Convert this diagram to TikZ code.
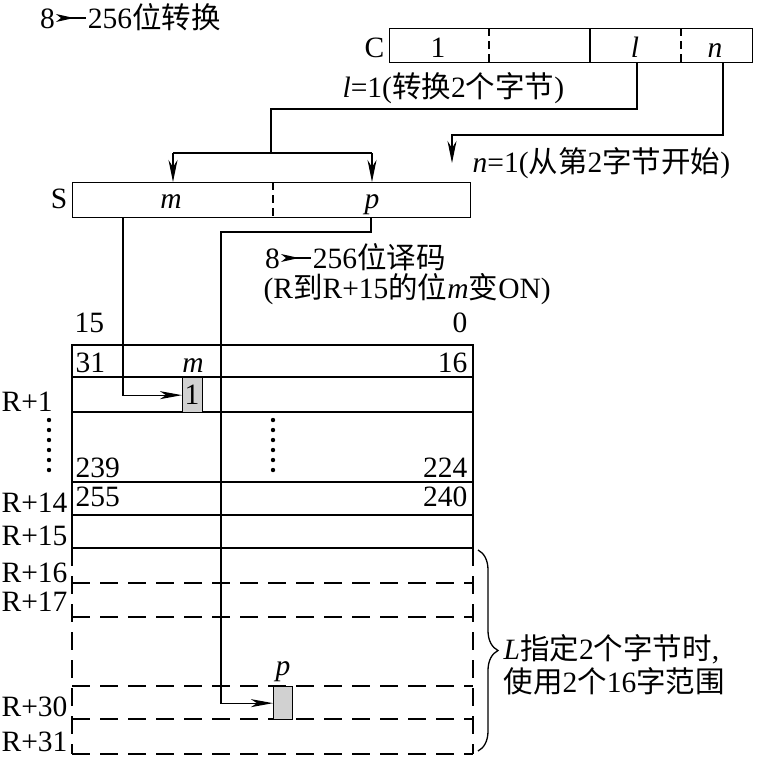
\documentclass[tikz,border=0pt]{standalone}
\usepackage{fontspec}
\setmainfont{Liberation Serif}
\newfontfamily\cjk{Noto Sans CJK SC}
\usetikzlibrary{arrows.meta,decorations.pathreplacing,calc}
\newcommand\hz[1]{{\cjk #1}}
\newcommand\barrow{\hspace{1pt}\tikz[baseline=-10pt,x=1pt,y=1pt]{\fill (0,4)--(18,0)--(0,-4)--(5,0)--cycle; \draw[line width=1.7pt] (5,0)--(30,0);}\hspace{1pt}}
\begin{document}
\begin{tikzpicture}[x=1pt,y=-1pt,line width=1.3pt,
  every node/.style={inner sep=0pt,font=\fontsize{29.5}{34}\selectfont},
  box/.style={draw,anchor=north west,line width=1.3pt},
  gbox/.style={draw,fill=black!18,anchor=north west,line width=1.3pt},
  dsh/.style={dash pattern=on 18pt off 10pt},
  sdsh/.style={dash pattern=on 8pt off 5pt},
  varr/.style={-{Stealth[length=22pt,width=9pt,inset=7pt]}},
  harr/.style={-{Stealth[length=22pt,width=8pt,inset=6pt]}},
  tw/.style={anchor=base west},
  te/.style={anchor=base east},
  tc/.style={anchor=base}]
\useasboundingbox (0,0) rectangle (757,756);

% title
\node[tw] (title) at (40,28) {8\barrow 256\hz{位转换}};

% C register
\node[box,minimum width=363pt,minimum height=34pt] (C) at (389,28) {};
\draw[sdsh] (489,28) -- (489,62);
\draw (590,28) -- (590,62);
\draw[sdsh] (681,28) -- (681,62);
\node[te] (Clab) at (385,57) {C};
\node[tc] (C1) at (438,57) {1};
\node[tc] (Cl) at (635,57) {\textit{l}};
\node[tc] (Cn) at (715,57) {\textit{n}};
\node[tw] (ltxt) at (342,97) {\textit{l}=1(\hz{转换}2\hz{个字节})};
\node[tw] (ntxt) at (472,172) {\textit{n}=1(\hz{从第}2\hz{字节开始})};

% S register
\node[box,minimum width=398pt,minimum height=35pt] (S) at (72,182) {};
\draw[sdsh] (273,182) -- (273,217);
\node[te] (Slab) at (68,208) {S};
\node[tc] (Sm) at (171,208) {\textit{m}};
\node[tc] (Sp) at (372,208) {\textit{p}};

% connectors from C to S
\coordinate (cl) at (637,62);
\coordinate (cn) at (723,62);
\coordinate (j1) at (271,153);
\coordinate (ja) at (173,153);
\coordinate (jb) at (372,153);
\coordinate (nend) at (452,163);
\draw (cl) |- (271,109) -- (j1);
\draw (ja) -- (jb);
\draw[varr] (ja) -- (ja |- S.north);
\draw[varr] (jb) -- (jb |- S.north);
\draw[varr] (cn) |- (452,135) -- (nend);

% decode text
\node[tw] (dec1) at (265,268) {8\barrow 256\hz{位译码}};
\node[tw] (dec2) at (263,298) {(R\hz{到}R+15\hz{的位}\textit{m}\hz{变}ON)};

% grid
\node[tw] (n15) at (74,332) {15};
\node[te] (n0) at (468,332) {0};
\draw (72,345) rectangle (473,548);
\foreach \y in {377,412,482,515} \draw (72,\y) -- (473,\y);
\draw (221,345) -- (221,548);
\draw[dsh] (72,548) -- (72,754);
\draw[dsh] (473,548) -- (473,754);
\foreach \y in {583,617,686,719,754} \draw[dsh] (72,\y) -- (473,\y);
\foreach \y in {420,430,...,470} {\fill (49,\y) circle (2.2pt); \fill (273,\y) circle (2.2pt);}

\node[tw] (n31) at (75,372) {31};
\node[tc] (gm) at (193,372) {\textit{m}};
\node[te] (n16) at (468,372) {16};
\node[tw] (n239) at (75,477) {239};
\node[te] (n224) at (468,477) {224};
\node[tw] (n255) at (75,506) {255};
\node[te] (n240) at (468,506) {240};

\node[gbox,minimum width=20pt,minimum height=35pt] (G1) at (182,377) {};
\node[tc] (g1t) at (192,404) {1};
\node[gbox,minimum width=19pt,minimum height=33pt] (G2) at (273,686) {};
\node[tc] (gp) at (283,675) {\textit{p}};

% row labels
\foreach \t/\y in {R+1/411,R+14/512,R+15/545,R+16/582,R+17/611,R+30/716,R+31/751}
  \node[tw] (r\y) at (1,\y) {\t};

% connectors from S to grid
\coordinate (ms) at (123,217);
\coordinate (ps) at (371,217);
\draw[harr] (ms) |- (G1.west);
\draw[harr] (ps) -- (371,232) -- (221,232) |- (G2.west);

% brace and note
\draw[decorate,decoration={brace,amplitude=20pt}] (478,550) -- (478,751);
\node[tw] (note1) at (503,659) {\textit{L}\hz{指定}2\hz{个字节时},};
\node[tw] (note2) at (503,692) {\hz{使用}2\hz{个}16\hz{字范围}};
\end{tikzpicture}
\end{document}
